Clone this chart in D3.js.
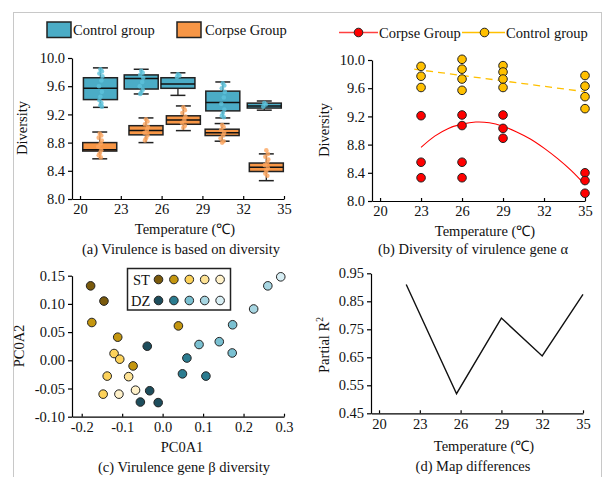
<!DOCTYPE html>
<html>
<head>
<meta charset="utf-8">
<script src="https://cdn.jsdelivr.net/npm/d3@7"></script>
<style>
body { margin: 0; background: #fff; }
text { font-family: "Liberation Serif", "Times New Roman", serif; font-size: 14.5px; fill: #111; }
.axis path, .axis line { stroke: #000; stroke-width: 1.2; }
.axis text { font-family: "Liberation Serif", serif; font-size: 14.5px; fill: #111; }
</style>
</head>
<body>
<div id="chart"></div>
<script>
// ---- data ----
var tempTicks = [20, 23, 26, 29, 32, 35];
var divTicks = [8.0, 8.4, 8.8, 9.2, 9.6, 10.0];

// (a) box plots: [low whisker, q1, median, q3, high whisker]
var controlPos = [21.5, 24.5, 27.2, 30.5, 33.55];
var controlBox = [
	[9.30, 9.41, 9.57, 9.72, 9.86],
	[9.49, 9.56, 9.71, 9.76, 9.84],
	[9.47, 9.57, 9.63, 9.72, 9.79],
	[9.15, 9.25, 9.37, 9.53, 9.66],
	[9.26, 9.29, 9.32, 9.36, 9.39]
];
var corpsePos = [21.45, 24.85, 27.6, 30.45, 33.7];
var corpseBox = [
	[8.57, 8.68, 8.70, 8.80, 8.95],
	[8.80, 8.91, 8.97, 9.04, 9.15],
	[8.97, 9.06, 9.12, 9.18, 9.32],
	[8.82, 8.90, 8.94, 8.99, 9.07],
	[8.26, 8.39, 8.45, 8.51, 8.64]
];
// raw sample dots drawn over the boxes
var controlDots = [
	[9.84, 9.81, 9.78, 9.74, 9.68, 9.60, 9.52, 9.45, 9.40, 9.36, 9.33, 9.31],
	[9.82, 9.79, 9.76, 9.72, 9.66, 9.60, 9.55, 9.51, 9.49],
	[9.77, 9.75, 9.73],
	[9.64, 9.61, 9.57, 9.52, 9.44, 9.35, 9.27, 9.22, 9.18, 9.16],
	[9.36, 9.34, 9.31]
];
var corpseDots = [
	[8.93, 8.90, 8.87, 8.83, 8.79, 8.74, 8.69, 8.65, 8.62, 8.59],
	[9.13, 9.10, 9.06, 9.02, 8.98, 8.94, 8.90, 8.86, 8.83],
	[9.30, 9.26, 9.22, 9.17, 9.12, 9.08, 9.04, 9.01],
	[9.05, 9.02, 8.98, 8.94, 8.90, 8.86, 8.82, 8.80],
	[8.69, 8.64, 8.60, 8.56, 8.52, 8.48, 8.44, 8.40, 8.36, 8.33]
];

// (b) alpha diversity points
var corpseT = [23, 23, 23, 26, 26, 26, 26, 29, 29, 29, 35, 35, 35];
var corpseDiv = [9.21, 8.55, 8.33, 9.22, 9.07, 8.55, 8.33, 9.22, 9.03, 8.89, 8.40, 8.29, 8.11];
var controlT = [23, 23, 23, 26, 26, 26, 26, 29, 29, 29, 29, 35, 35, 35, 35];
var controlDiv = [9.91, 9.77, 9.61, 10.01, 9.87, 9.73, 9.57, 9.92, 9.83, 9.73, 9.61, 9.78, 9.63, 9.48, 9.31];
var corpseFitT = [23, 24, 25, 26, 27, 28, 29, 30, 31, 32, 33, 34, 35];
var corpseFit = [8.76, 8.92, 9.03, 9.09, 9.12, 9.11, 9.06, 8.98, 8.88, 8.75, 8.60, 8.43, 8.23];
var controlFitT = [22.5, 35];
var controlFit = [9.87, 9.55];

// (c) PCoA points, group index 0-4 (ST) / 0-4 (DZ)
var stColors = ["#7a5a0c", "#c4960f", "#fdd25a", "#fde294", "#fff1c9"];
var dzColors = ["#1d4d5c", "#2b7c90", "#7ac0d1", "#a7d6e2", "#d7eef4"];
var stX = [-0.178, -0.145, -0.175, -0.111, 0.039, -0.073, -0.120, -0.106, -0.137, -0.084, -0.147, -0.108, -0.067];
var stY = [0.132, 0.105, 0.067, 0.041, 0.061, -0.010, 0.012, 0.002, -0.028, -0.029, -0.060, -0.060, -0.053];
var stG = [0, 0, 1, 1, 1, 1, 2, 2, 2, 3, 2, 4, 4];
var dzX = [-0.038, -0.032, -0.055, -0.011, 0.060, 0.049, 0.107, 0.090, 0.140, 0.173, 0.172, 0.225, 0.260, 0.292];
var dzY = [0.025, -0.054, -0.074, -0.075, 0.004, -0.024, -0.028, 0.028, 0.033, 0.063, 0.013, 0.091, 0.132, 0.148];
var dzG = [0, 0, 0, 0, 1, 1, 1, 2, 2, 2, 2, 3, 3, 4];
var pcXTicks = [-0.2, -0.1, 0.0, 0.1, 0.2, 0.3];
var pcYTicks = [-0.10, -0.05, 0.00, 0.05, 0.10, 0.15];

// (d) partial R2
var mapT = [22, 25.7, 29, 32, 35];
var mapR2 = [0.91, 0.52, 0.79, 0.655, 0.875];
var r2Ticks = [0.45, 0.55, 0.65, 0.75, 0.85, 0.95];

var blue = "#4bacc6", orange = "#f79646";
var dotBlue = "#5cc3dc", dotOrange = "#fba55f";

var fmt = d3.formatLocale({decimal: ".", thousands: ",", grouping: [3], currency: ["", ""], minus: "-"});

var svg = d3.select("#chart").append("svg")
	.attr("width", 603)
	.attr("height", 477);

svg.append("rect").attr("width", 603).attr("height", 477).attr("fill", "#fff");
// outer frame
svg.append("rect")
	.attr("x", 13.5).attr("y", 12.5)
	.attr("width", 588).attr("height", 480)
	.attr("fill", "none").attr("stroke", "#c8c8c8").attr("stroke-width", 1);

function drawAxes(xs, ys, xt, yt, xf, yf) {
	var xAxis = d3.axisBottom(xs).tickValues(xt).tickFormat(xf)
		.tickSizeInner(-3).tickSizeOuter(0).tickPadding(5);
	svg.append("g").attr("class", "axis")
		.attr("transform", "translate(0," + ys.range()[0] + ")")
		.call(xAxis);
	var yAxis = d3.axisLeft(ys).tickValues(yt).tickFormat(yf)
		.tickSizeInner(4).tickSizeOuter(0).tickPadding(3);
	svg.append("g").attr("class", "axis")
		.attr("transform", "translate(" + xs.range()[0] + ",0)")
		.call(yAxis);
}

function label(x, y, txt, rot) {
	var t = svg.append("text").attr("text-anchor", "middle").text(txt);
	if (rot) t.attr("transform", "translate(" + x + "," + y + ") rotate(-90)");
	else t.attr("x", x).attr("y", y);
	return t;
}

// ===== (a) =====
var xA = d3.scaleLinear().domain([19.41, 35]).range([72, 284]);
var yA = d3.scaleLinear().domain([8, 10]).range([199, 58]);
var bw = 2.5, cw = 1.1;

function drawBoxes(pos, stats, dots, fill, dotFill) {
	var g = svg.append("g");
	stats.forEach(function(s, i) {
		var c = pos[i];
		var gg = g.append("g");
		gg.append("line").attr("x1", xA(c)).attr("x2", xA(c))
			.attr("y1", yA(s[0])).attr("y2", yA(s[4]))
			.attr("stroke", "#222").attr("stroke-width", 1.3);
		[s[0], s[4]].forEach(function(v) {
			gg.append("line").attr("x1", xA(c - cw / 2)).attr("x2", xA(c + cw / 2))
				.attr("y1", yA(v)).attr("y2", yA(v))
				.attr("stroke", "#222").attr("stroke-width", 1.5);
		});
		gg.append("rect").attr("x", xA(c - bw / 2)).attr("width", xA(c + bw / 2) - xA(c - bw / 2))
			.attr("y", yA(s[3])).attr("height", yA(s[1]) - yA(s[3]))
			.attr("fill", fill).attr("stroke", "#222").attr("stroke-width", 1.5);
		gg.append("line").attr("x1", xA(c - bw / 2)).attr("x2", xA(c + bw / 2))
			.attr("y1", yA(s[2])).attr("y2", yA(s[2]))
			.attr("stroke", "#111").attr("stroke-width", 1.5);
		gg.selectAll("circle").data(dots[i]).enter().append("circle")
			.attr("cx", function(d, j) { return xA(c) + [0, 1.5, -1, 2, 1, -1.5, 1.5, 0, -1, 1, 0, 1.5][j % 12]; })
			.attr("cy", function(d) { return yA(d); })
			.attr("r", 2.3)
			.attr("fill", dotFill).attr("fill-opacity", 0.8);
	});
}
drawBoxes(controlPos, controlBox, controlDots, blue, dotBlue);
drawBoxes(corpsePos, corpseBox, corpseDots, orange, dotOrange);
drawAxes(xA, yA, tempTicks, divTicks, fmt.format("d"), fmt.format(".1f"));

// legend (a)
svg.append("rect").attr("x", 47).attr("y", 22).attr("width", 24).attr("height", 15.5)
	.attr("fill", blue).attr("stroke", "#222").attr("stroke-width", 1.5);
svg.append("text").attr("x", 73).attr("y", 34.5).text("Control group");
svg.append("rect").attr("x", 177).attr("y", 22).attr("width", 24).attr("height", 15.5)
	.attr("fill", orange).attr("stroke", "#222").attr("stroke-width", 1.5);
svg.append("text").attr("x", 205).attr("y", 34.5).text("Corpse Group");

label(27, 128, "Diversity", true);
label(185, 234, "Temperature (℃)");
label(181, 254, "(a) Virulence is based on diversity");

// ===== (b) =====
var xB = d3.scaleLinear().domain([19.41, 35]).range([372, 585]);
var yB = d3.scaleLinear().domain([8, 10]).range([201, 60]);

svg.append("path")
	.datum(controlFitT.map(function(t, i) { return [t, controlFit[i]]; }))
	.attr("d", d3.line().x(function(d) { return xB(d[0]); }).y(function(d) { return yB(d[1]); }))
	.attr("fill", "none").attr("stroke", "#ffc000").attr("stroke-width", 1.3)
	.attr("stroke-dasharray", "7,5");
svg.append("path")
	.datum(corpseFitT.map(function(t, i) { return [t, corpseFit[i]]; }))
	.attr("d", d3.line().curve(d3.curveCatmullRom).x(function(d) { return xB(d[0]); }).y(function(d) { return yB(d[1]); }))
	.attr("fill", "none").attr("stroke", "#ff0000").attr("stroke-width", 1.1);

svg.append("g").selectAll("circle").data(controlT).enter().append("circle")
	.attr("cx", function(d) { return xB(d); })
	.attr("cy", function(d, i) { return yB(controlDiv[i]); })
	.attr("r", 4.3).attr("fill", "#ffc000").attr("stroke", "#222").attr("stroke-width", 1);
svg.append("g").selectAll("circle").data(corpseT).enter().append("circle")
	.attr("cx", function(d) { return xB(d); })
	.attr("cy", function(d, i) { return yB(corpseDiv[i]); })
	.attr("r", 4.3).attr("fill", "#ff0000").attr("stroke", "#222").attr("stroke-width", 1);

drawAxes(xB, yB, tempTicks, divTicks, fmt.format("d"), fmt.format(".1f"));

// legend (b)
svg.append("line").attr("x1", 339).attr("x2", 378).attr("y1", 32.5).attr("y2", 32.5)
	.attr("stroke", "#ff4040").attr("stroke-width", 1.5);
svg.append("circle").attr("cx", 358.5).attr("cy", 32.5).attr("r", 4.3)
	.attr("fill", "#ff0000").attr("stroke", "#222").attr("stroke-width", 1);
svg.append("text").attr("x", 379).attr("y", 37.5).text("Corpse Group");
svg.append("line").attr("x1", 462).attr("x2", 505).attr("y1", 32.5).attr("y2", 32.5)
	.attr("stroke", "#ffc000").attr("stroke-width", 1.5);
svg.append("circle").attr("cx", 484.5).attr("cy", 32.5).attr("r", 4.3)
	.attr("fill", "#ffc000").attr("stroke", "#222").attr("stroke-width", 1);
svg.append("text").attr("x", 506).attr("y", 37.5).text("Control group");

label(329, 130, "Diversity", true);
label(485, 236, "Temperature (℃)");
label(473, 254, "(b) Diversity of virulence gene α");

// ===== (c) =====
var xC = d3.scaleLinear().domain([-0.224, 0.3]).range([72, 284]);
var yC = d3.scaleLinear().domain([-0.10, 0.15]).range([416.7, 275.7]);

drawAxes(xC, yC, pcXTicks, pcYTicks, fmt.format(".1f"), fmt.format(".2f"));

svg.append("g").selectAll("circle").data(stX).enter().append("circle")
	.attr("cx", function(d) { return xC(d); })
	.attr("cy", function(d, i) { return yC(stY[i]); })
	.attr("r", 4.3).attr("fill", function(d, i) { return stColors[stG[i]]; })
	.attr("stroke", "#222").attr("stroke-width", 1);
svg.append("g").selectAll("circle").data(dzX).enter().append("circle")
	.attr("cx", function(d) { return xC(d); })
	.attr("cy", function(d, i) { return yC(dzY[i]); })
	.attr("r", 4.3).attr("fill", function(d, i) { return dzColors[dzG[i]]; })
	.attr("stroke", "#222").attr("stroke-width", 1);

// legend (c)
svg.append("rect").attr("x", 127.5).attr("y", 268.5).attr("width", 103).attr("height", 41.5)
	.attr("fill", "#fff").attr("stroke", "#222").attr("stroke-width", 1.5);
svg.append("text").attr("x", 133).attr("y", 284.5).text("ST");
svg.append("text").attr("x", 131).attr("y", 306).text("DZ");
[stColors, dzColors].forEach(function(cols, r) {
	svg.append("g").selectAll("circle").data(cols).enter().append("circle")
		.attr("cx", function(d, i) { return 158.5 + i * 15.4; })
		.attr("cy", r === 0 ? 279.5 : 300.5)
		.attr("r", 4.3).attr("fill", function(d) { return d; })
		.attr("stroke", "#222").attr("stroke-width", 1);
});

label(24, 346, "PC0A2", true);
label(182, 452, "PC0A1");
label(184, 472, "(c) Virulence gene β diversity");

// ===== (d) =====
var xD = d3.scaleLinear().domain([19.41, 35]).range([371, 583]);
var yD = d3.scaleLinear().domain([0.45, 0.95]).range([413.3, 273.3]);

drawAxes(xD, yD, tempTicks, r2Ticks, fmt.format("d"), fmt.format(".2f"));

svg.append("path")
	.datum(mapT.map(function(t, i) { return [t, mapR2[i]]; }))
	.attr("d", d3.line().x(function(d) { return xD(d[0]); }).y(function(d) { return yD(d[1]); }))
	.attr("fill", "none").attr("stroke", "#111").attr("stroke-width", 1.4);

var r2l = label(329, 345, "Partial R", true);
r2l.append("tspan").attr("font-size", "9.5px").attr("dy", -6).text("2");
label(484, 451, "Temperature (℃)");
label(473, 471, "(d) Map differences");
</script>
</body>
</html>
